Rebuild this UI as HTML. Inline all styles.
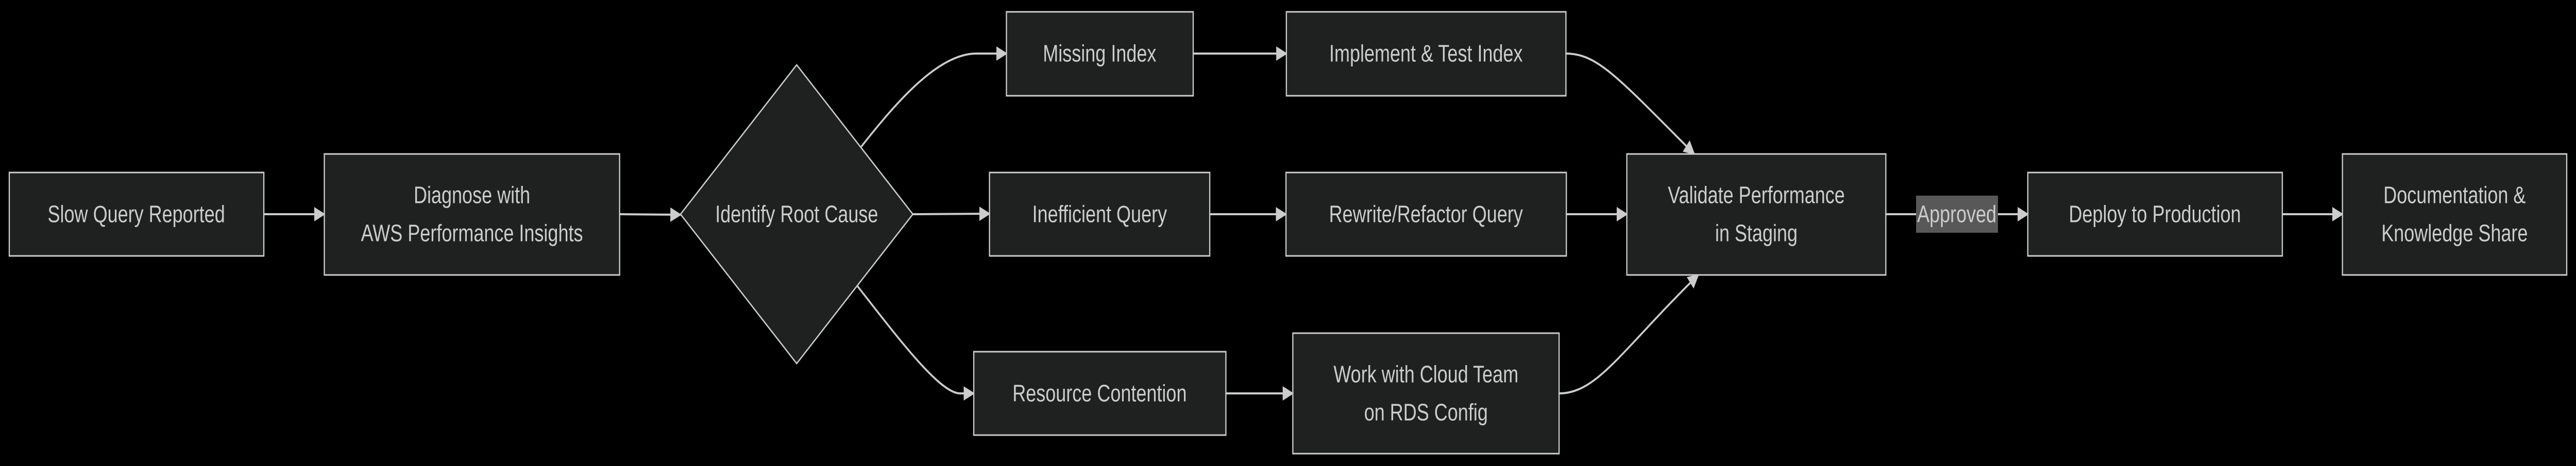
<!DOCTYPE html>
<html><head><meta charset="utf-8"><style>
html,body{margin:0;padding:0;background:#000;width:100%;height:100%;overflow:hidden}
svg{display:block;width:100vw;height:100vh}
text{font-family:"Liberation Sans",sans-serif;font-size:46px;fill:#ccc;text-anchor:middle;dominant-baseline:central}
.n{fill:#1f2020;stroke:#ccc;stroke-width:3}
.e{fill:none;stroke:#ccc;stroke-width:4}
</style></head><body>
<svg viewBox="0 0 6386 905" preserveAspectRatio="none" xmlns="http://www.w3.org/2000/svg">
<defs>
<marker id="b" viewBox="0 0 10 10" refX="9" refY="5" markerWidth="7" markerHeight="7" orient="auto"><path d="M0,0L10,5L0,10z" fill="#ccc"/></marker></defs>
<path class="e" marker-end="url(#b)" d="M654,416L804,416"/>
<path class="e" marker-end="url(#b)" d="M1536,416L1687,417"/>
<path class="e" marker-end="url(#b)" d="M2135,285C2230,190 2330,104 2420,104L2495,104"/>
<path class="e" marker-end="url(#b)" d="M2263,416L2453,415"/>
<path class="e" marker-end="url(#b)" d="M2125,555C2230,660 2330,764 2380,764L2414,764"/>
<path class="e" marker-end="url(#b)" d="M2958,104L3189,104"/>
<path class="e" marker-end="url(#b)" d="M2999,416L3188,416"/>
<path class="e" marker-end="url(#b)" d="M3039,764L3205,764"/>
<path class="e" marker-end="url(#b)" d="M3882,104C3960,104 4010,150 4200,299"/>
<path class="e" marker-end="url(#b)" d="M3883,416L4033,416"/>
<path class="e" marker-end="url(#b)" d="M3865,764C3960,764 4020,680 4210,534"/>
<path class="e" marker-end="url(#b)" d="M4675,416L5027,416"/>
<path class="e" marker-end="url(#b)" d="M5658,416L5807,416"/>
<rect class="n" x="23" y="335" width="631" height="162"/>
<text x="338" y="416">Slow Query Reported</text>
<rect class="n" x="804" y="299" width="732" height="235"/>
<text x="1170" y="379">Diagnose with</text><text x="1170" y="453">AWS Performance Insights</text>
<path class="n" d="M1975,126L2263,416L1975,706L1687,416Z"/>
<text x="1975" y="416">Identify Root Cause</text>
<rect class="n" x="2495" y="23" width="463" height="163"/>
<text x="2726" y="104">Missing Index</text>
<rect class="n" x="3189" y="23" width="693" height="163"/>
<text x="3535" y="104">Implement &amp; Test Index</text>
<rect class="n" x="2453" y="335" width="546" height="162"/>
<text x="2726" y="416">Inefficient Query</text>
<rect class="n" x="3188" y="335" width="695" height="162"/>
<text x="3535" y="416">Rewrite/Refactor Query</text>
<rect class="n" x="2414" y="683" width="625" height="162"/>
<text x="2726" y="764">Resource Contention</text>
<rect class="n" x="3205" y="647" width="660" height="234"/>
<text x="3535" y="727">Work with Cloud Team</text><text x="3535" y="801">on RDS Config</text>
<rect class="n" x="4033" y="299" width="642" height="235"/>
<text x="4354" y="379">Validate Performance</text><text x="4354" y="453">in Staging</text>
<rect x="4750" y="380" width="203" height="72" fill="#585858"/>
<text x="4851" y="416">Approved</text>
<rect class="n" x="5027" y="335" width="631" height="162"/>
<text x="5342" y="416">Deploy to Production</text>
<rect class="n" x="5807" y="299" width="556" height="235"/>
<text x="6085" y="379">Documentation &amp;</text><text x="6085" y="453">Knowledge Share</text>
</svg>
</body></html>
